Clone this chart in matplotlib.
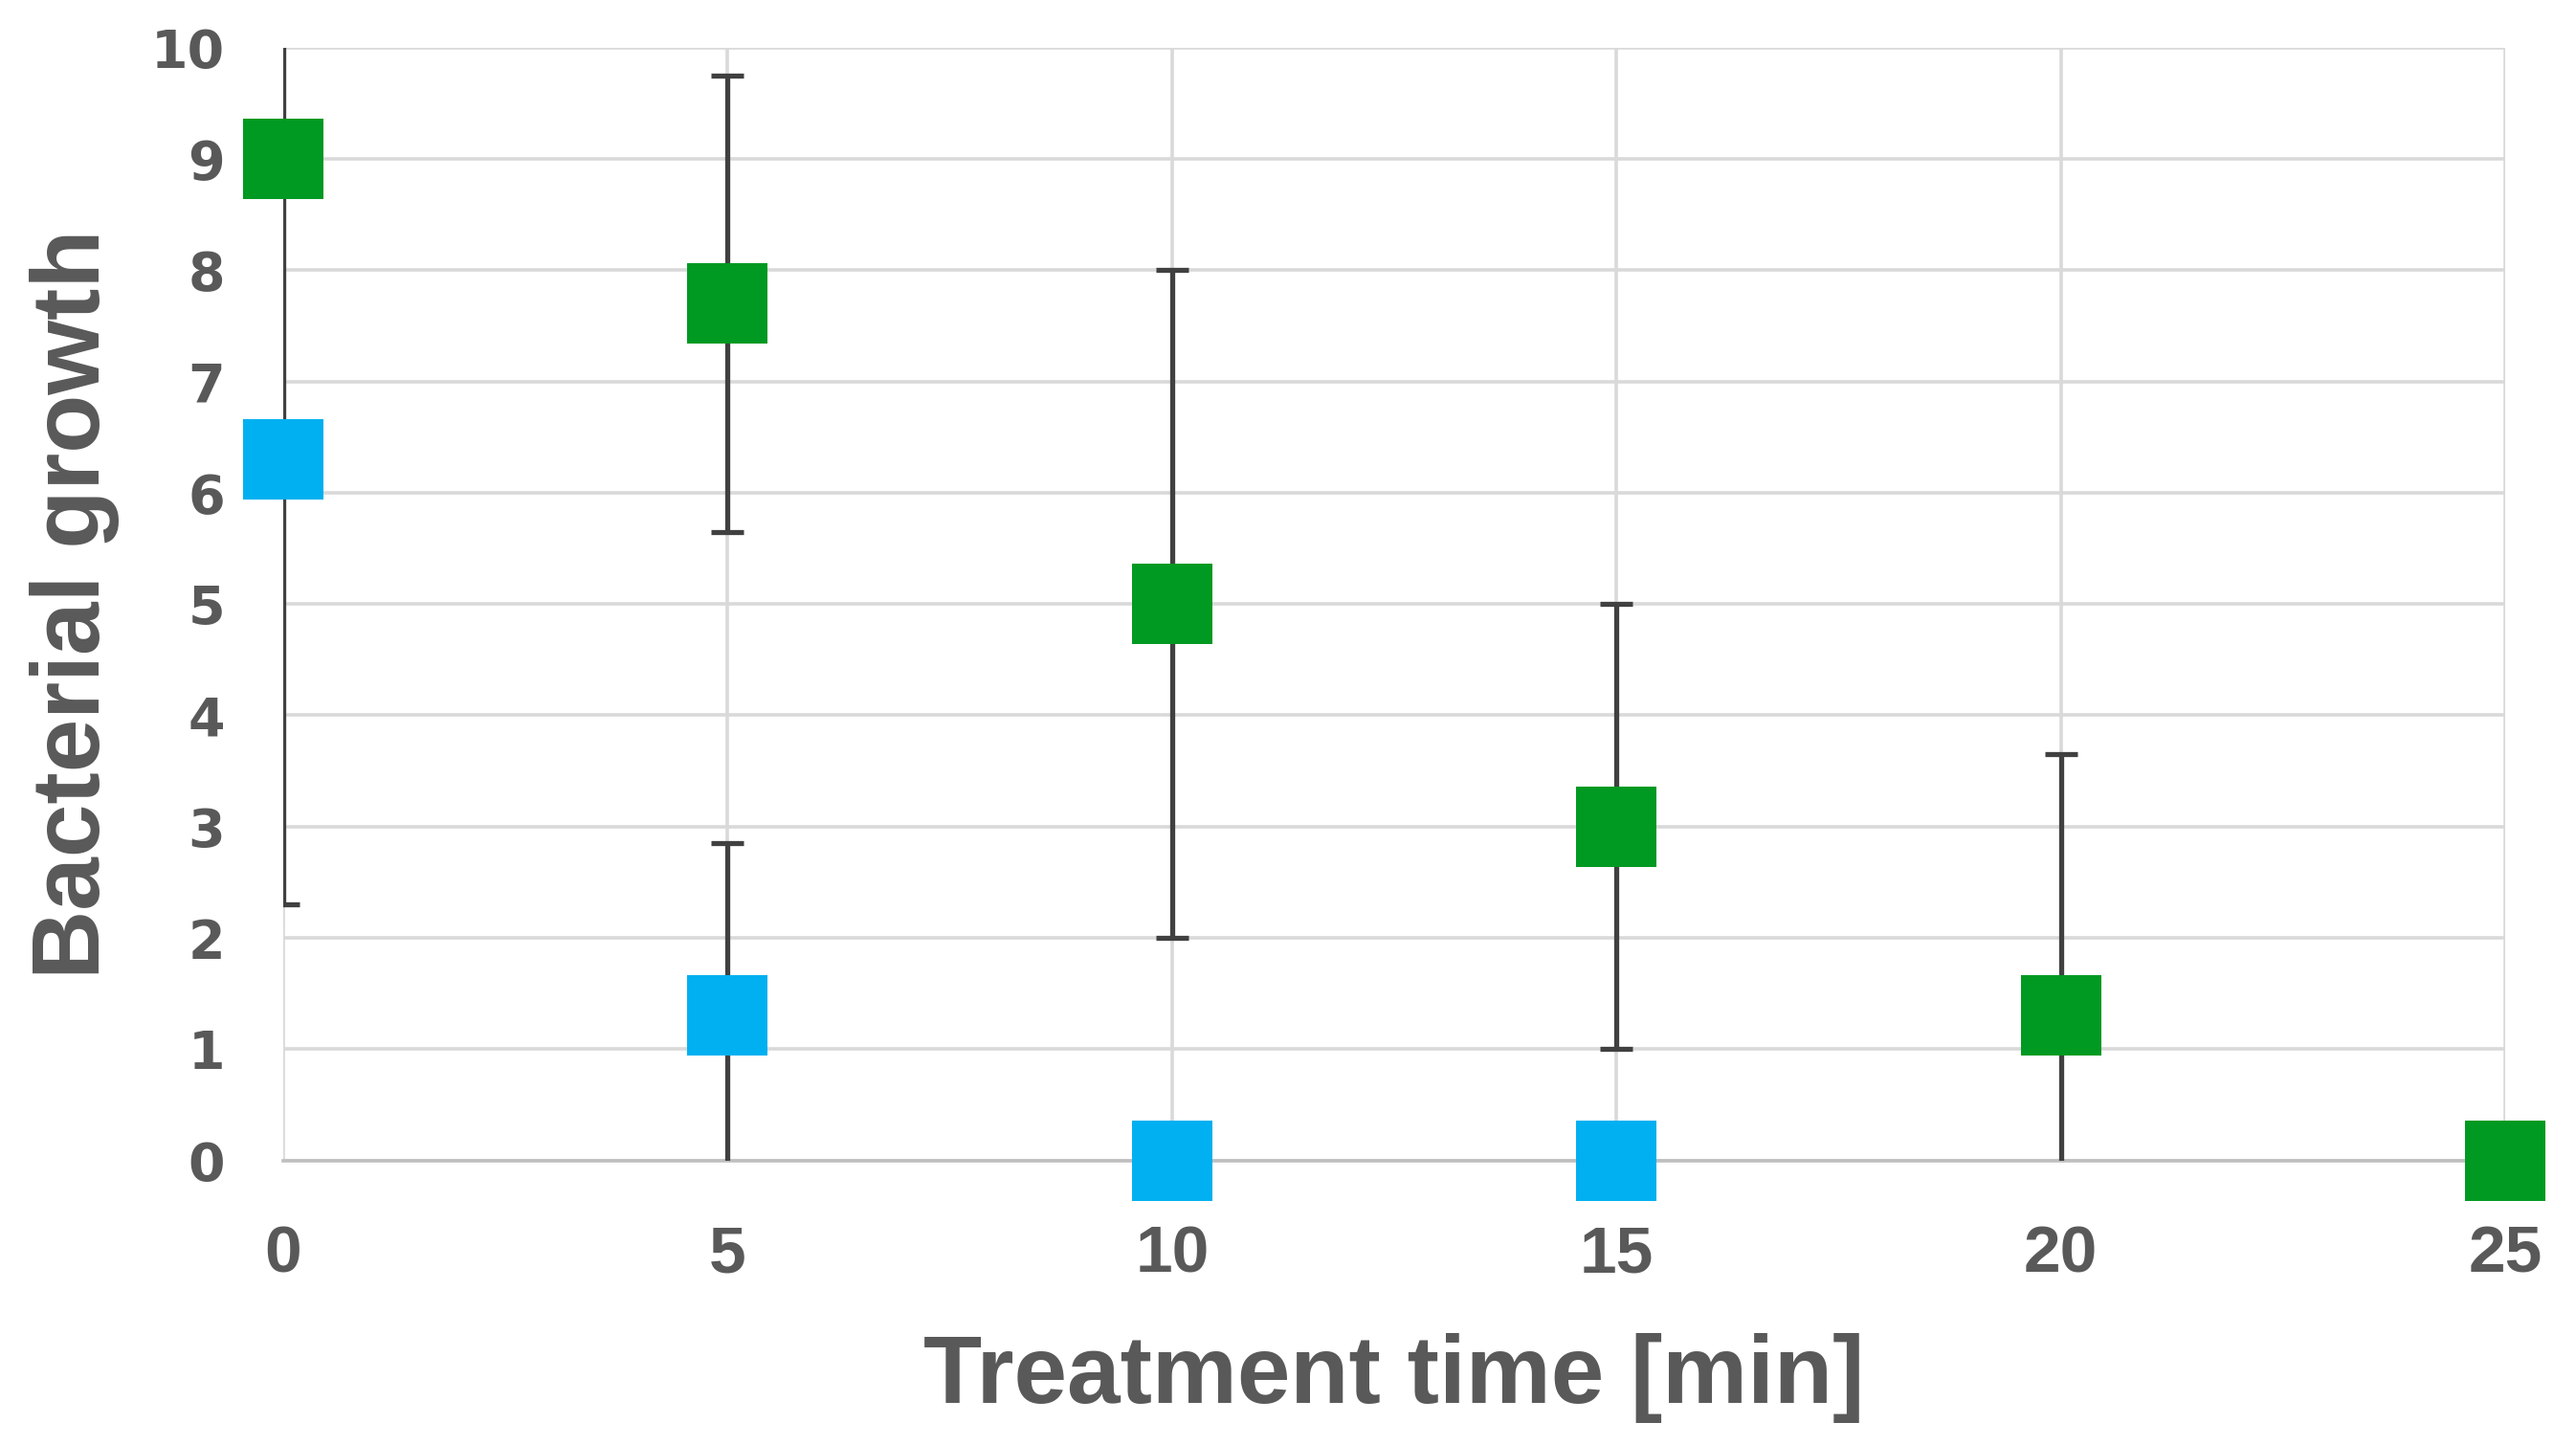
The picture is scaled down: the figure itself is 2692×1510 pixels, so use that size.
import matplotlib.pyplot as plt

# valores
tempo_verde = [0, 5, 10, 15, 20, 25]
cresc_verde = [9.0, 7.7, 5.0, 3.0, 1.3, 0.0]
erro_verde = [0.0, 2.05, 3.0, 2.0, 2.35, 0.0]

tempo_azul = [0, 5, 10, 15]
cresc_azul = [6.3, 1.3, 0.0, 0.0]
erro_azul = [4.0, 1.55, 0.0, 0.0]

ticks_x = [0, 5, 10, 15, 20, 25]
ticks_y = [0, 1, 2, 3, 4, 5, 6, 7, 8, 9, 10]

cinza_texto = "#595959"
cor_erro = "#404040"
fonte_estreita = ["Liberation Sans", "DejaVu Sans"]

fig = plt.figure(figsize=(13.46, 7.55), dpi=200)
ax = fig.add_axes([0.110, 0.197, 0.8625, 0.770])

ax.errorbar(tempo_verde, cresc_verde, yerr=erro_verde, fmt="none",
            ecolor=cor_erro, elinewidth=1.9, capsize=6, capthick=1.9, zorder=3)
ax.errorbar(tempo_azul, cresc_azul, yerr=erro_azul, fmt="none",
            ecolor=cor_erro, elinewidth=1.9, capsize=6, capthick=1.9, zorder=3)

ax.plot(tempo_verde, cresc_verde, "s", color="#009922", markersize=30,
        markeredgewidth=0, clip_on=False, zorder=4)
ax.plot(tempo_azul, cresc_azul, "s", color="#00B0F0", markersize=30,
        markeredgewidth=0, clip_on=False, zorder=4)

ax.set_xlim(0, 25)
ax.set_ylim(0, 10)
ax.set_xticks(ticks_x)
ax.set_yticks(ticks_y)
ax.grid(True, color="#d9d9d9", linewidth=1.3)
ax.set_axisbelow(True)
for lado in ["top", "right", "left"]:
    ax.spines[lado].set_visible(False)
ax.spines["bottom"].set_color("#bfbfbf")
ax.spines["bottom"].set_linewidth(1.3)
ax.tick_params(length=0)
ax.tick_params(axis="x", pad=24)
ax.tick_params(axis="y", pad=22)

for rotulo in ax.get_yticklabels():
    rotulo.set_fontsize(20)
    rotulo.set_fontweight("bold")
    rotulo.set_color(cinza_texto)
for rotulo in ax.get_xticklabels():
    rotulo.set_fontsize(25)
    rotulo.set_fontweight("bold")
    rotulo.set_family(fonte_estreita)
    rotulo.set_color(cinza_texto)

ax.set_xlabel("Treatment time [min]", fontsize=36, fontweight="bold",
              color=cinza_texto, family=fonte_estreita, labelpad=18)
ax.set_ylabel("Bacterial growth", fontsize=36, fontweight="bold",
              color=cinza_texto, family=fonte_estreita, labelpad=12)

fig.savefig("out.png", dpi=200)
